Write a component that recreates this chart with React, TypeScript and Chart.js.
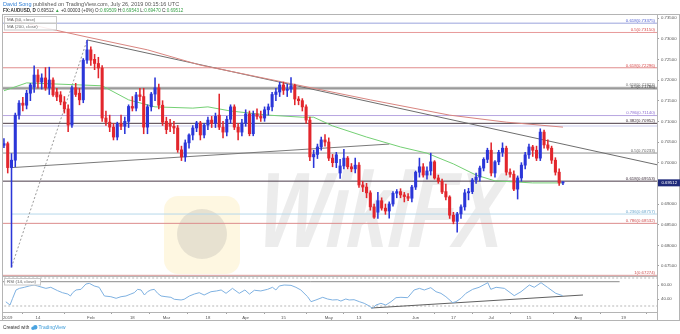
import React, { useEffect, useRef } from "react";
import { Chart, registerables } from "chart.js";

Chart.register(...registerables);

// ---------------- data ----------------
const tickIndex = [1, 9, 23, 34, 43, 54, 64, 74, 86, 94, 109, 119, 129, 139, 152, 164];
const tickLabels = ["2019", "14", "Feb", "18", "Mar", "18", "Apr", "15", "May", "13", "Jun", "17", "Jul", "15", "Aug", "19"];

const opens = [
  0.7042, 0.7046, 0.6988, 0.7006, 0.7115, 0.7144, 0.7139, 0.7168, 0.7183, 0.7212,
  0.7195, 0.7205, 0.7181, 0.7200, 0.7171, 0.7164, 0.7147, 0.7130, 0.7091, 0.7181,
  0.7168, 0.7152, 0.7248, 0.7273, 0.7250, 0.7240, 0.7229, 0.7108, 0.7098, 0.7086,
  0.7062, 0.7094, 0.7088, 0.7100, 0.7136, 0.7132, 0.7164, 0.7160, 0.7086, 0.7135,
  0.7166, 0.7181, 0.7139, 0.7100, 0.7095, 0.7088, 0.7084, 0.7031, 0.7014, 0.7048,
  0.7067, 0.7084, 0.7096, 0.7067, 0.7091, 0.7103, 0.7095, 0.7115, 0.7086, 0.7074,
  0.7105, 0.7135, 0.7086, 0.7074, 0.7096, 0.7118, 0.7070, 0.7118, 0.7112, 0.7108,
  0.7128, 0.7135, 0.7165, 0.7171, 0.7188, 0.7175, 0.7178, 0.7186, 0.7154, 0.7150,
  0.7135, 0.7103, 0.7014, 0.7020, 0.7038, 0.7055, 0.7050, 0.7011, 0.7000, 0.6975,
  0.6992, 0.7011, 0.6990, 0.6985, 0.6994, 0.6946, 0.6941, 0.6927, 0.6893, 0.6880,
  0.6908, 0.6890, 0.6883, 0.6900, 0.6926, 0.6930, 0.6922, 0.6918, 0.6914, 0.6941,
  0.6977, 0.6990, 0.6970, 0.6980, 0.7002, 0.6963, 0.6955, 0.6930, 0.6917, 0.6873,
  0.6858, 0.6876, 0.6893, 0.6927, 0.6930, 0.6958, 0.6965, 0.6987, 0.7008, 0.7030,
  0.6975, 0.7002, 0.7025, 0.7035, 0.6977, 0.6972, 0.6936, 0.6963, 0.6994, 0.7019,
  0.7038, 0.7030, 0.7011, 0.7074, 0.7043, 0.7035, 0.7006, 0.6977, 0.69509,
];
const highs = [
  0.7058, 0.7050, 0.7022, 0.7120, 0.7150, 0.7158, 0.7175, 0.7192, 0.7234, 0.7225,
  0.7215, 0.7230, 0.7231, 0.7205, 0.7180, 0.7172, 0.7160, 0.7140, 0.7186, 0.7192,
  0.7180, 0.7252, 0.7296, 0.7280, 0.7262, 0.7255, 0.7235, 0.7125, 0.7115, 0.7095,
  0.7098, 0.7115, 0.7110, 0.7140, 0.7160, 0.7170, 0.7180, 0.7180, 0.7140, 0.7170,
  0.7205, 0.7190, 0.7150, 0.7110, 0.7105, 0.7100, 0.7090, 0.7040, 0.7055, 0.7070,
  0.7090, 0.7100, 0.7100, 0.7095, 0.7110, 0.7112, 0.7120, 0.7166, 0.7100, 0.7112,
  0.7140, 0.7140, 0.7095, 0.7105, 0.7128, 0.7125, 0.7125, 0.7130, 0.7125, 0.7135,
  0.7142, 0.7170, 0.7180, 0.7195, 0.7195, 0.7190, 0.7206, 0.7190, 0.7160, 0.7155,
  0.7140, 0.7110, 0.7030, 0.7045, 0.7062, 0.7068, 0.7060, 0.7020, 0.7025, 0.7008,
  0.7032, 0.7015, 0.6998, 0.7011, 0.7000, 0.6955, 0.6950, 0.6932, 0.6900, 0.6928,
  0.6915, 0.6900, 0.6905, 0.6930, 0.6935, 0.6937, 0.6928, 0.6925, 0.6945, 0.6980,
  0.7011, 0.6998, 0.6990, 0.7023, 0.7005, 0.6970, 0.6960, 0.6948, 0.6920, 0.6880,
  0.6880, 0.6898, 0.6935, 0.6938, 0.6962, 0.6975, 0.6992, 0.7012, 0.7035, 0.7048,
  0.7005, 0.7030, 0.7048, 0.7040, 0.6985, 0.6980, 0.6968, 0.7000, 0.7025, 0.7045,
  0.7042, 0.7040, 0.7082, 0.7079, 0.7055, 0.7040, 0.7012, 0.6985, 0.69543,
];
const lows = [
  0.7036, 0.6975, 0.6747, 0.6990, 0.7105, 0.7125, 0.7130, 0.7150, 0.7170, 0.7180,
  0.7178, 0.7175, 0.7165, 0.7160, 0.7150, 0.7140, 0.7120, 0.7075, 0.7085, 0.7160,
  0.7140, 0.7145, 0.7240, 0.7235, 0.7225, 0.7205, 0.7100, 0.7090, 0.7075, 0.7055,
  0.7055, 0.7080, 0.7070, 0.7085, 0.7125, 0.7125, 0.7150, 0.7070, 0.7070, 0.7125,
  0.7150, 0.7130, 0.7090, 0.7070, 0.7075, 0.7070, 0.7025, 0.7005, 0.7003, 0.7035,
  0.7055, 0.7075, 0.7055, 0.7060, 0.7080, 0.7085, 0.7085, 0.7080, 0.7060, 0.7065,
  0.7095, 0.7080, 0.7055, 0.7065, 0.7088, 0.7065, 0.7065, 0.7105, 0.7100, 0.7100,
  0.7115, 0.7125, 0.7150, 0.7160, 0.7165, 0.7160, 0.7170, 0.7140, 0.7140, 0.7125,
  0.7095, 0.7005, 0.6988, 0.7010, 0.7030, 0.7040, 0.7005, 0.6990, 0.6988, 0.6962,
  0.6985, 0.6985, 0.6978, 0.6975, 0.6940, 0.6930, 0.6915, 0.6885, 0.6865, 0.6865,
  0.6885, 0.6875, 0.6866, 0.6895, 0.6915, 0.6915, 0.6905, 0.6908, 0.6905, 0.6935,
  0.6965, 0.6965, 0.6960, 0.6970, 0.6960, 0.6950, 0.6925, 0.6910, 0.6865, 0.6852,
  0.6832, 0.6865, 0.6885, 0.6910, 0.6925, 0.6950, 0.6955, 0.6980, 0.7000, 0.6968,
  0.6965, 0.6995, 0.7015, 0.6970, 0.6965, 0.6932, 0.6912, 0.6955, 0.6985, 0.7010,
  0.7015, 0.7005, 0.7005, 0.7035, 0.7030, 0.6998, 0.6970, 0.6945, 0.69470,
];
const closes = [
  0.7046, 0.6988, 0.7006, 0.7115, 0.7144, 0.7139, 0.7168, 0.7188, 0.7212, 0.7195,
  0.7205, 0.7181, 0.7200, 0.7164, 0.7159, 0.7147, 0.7130, 0.7091, 0.7181, 0.7165,
  0.7152, 0.7248, 0.7273, 0.7248, 0.7240, 0.7229, 0.7108, 0.7098, 0.7086, 0.7062,
  0.7094, 0.7088, 0.7100, 0.7136, 0.7132, 0.7164, 0.7160, 0.7086, 0.7135, 0.7166,
  0.7181, 0.7139, 0.7098, 0.7080, 0.7088, 0.7084, 0.7031, 0.7014, 0.7048, 0.7067,
  0.7084, 0.7096, 0.7067, 0.7091, 0.7103, 0.7095, 0.7112, 0.7086, 0.7074, 0.7105,
  0.7135, 0.7086, 0.7074, 0.7096, 0.7118, 0.7070, 0.7118, 0.7112, 0.7108, 0.7128,
  0.7135, 0.7165, 0.7171, 0.7188, 0.7175, 0.7178, 0.7186, 0.7154, 0.7150, 0.7135,
  0.7103, 0.7014, 0.7020, 0.7038, 0.7055, 0.7050, 0.7011, 0.7000, 0.7019, 0.6992,
  0.7011, 0.6990, 0.6985, 0.6994, 0.6946, 0.6941, 0.6927, 0.6893, 0.6868, 0.6908,
  0.6890, 0.6883, 0.6900, 0.6926, 0.6930, 0.6922, 0.6918, 0.6914, 0.6941, 0.6977,
  0.6990, 0.6970, 0.6980, 0.7002, 0.6963, 0.6955, 0.6929, 0.6917, 0.6873, 0.6858,
  0.6876, 0.6893, 0.6927, 0.6930, 0.6958, 0.6965, 0.6987, 0.7008, 0.7030, 0.6975,
  0.7002, 0.7025, 0.7035, 0.6977, 0.6972, 0.6936, 0.6963, 0.6994, 0.7019, 0.7038,
  0.7030, 0.7011, 0.7074, 0.7043, 0.7035, 0.7006, 0.6977, 0.6951, 0.69512,
];

const ma50X = [0, 6, 26, 33, 40, 50, 54, 60, 70, 79, 82, 87, 96, 105, 112, 119, 125, 130, 140, 148];
const ma50Y = [0.7174, 0.7193, 0.7186, 0.7152, 0.7135, 0.7132, 0.7135, 0.7125, 0.7115, 0.711, 0.711, 0.7089, 0.7062, 0.7038, 0.7023, 0.6997, 0.697, 0.6956, 0.6951, 0.6951];

const ma200X = [0, 10, 22, 38, 52, 75, 97, 118, 133, 148];
const ma200Y = [0.735, 0.7328, 0.7304, 0.7273, 0.7236, 0.7193, 0.7152, 0.7115, 0.7098, 0.7086];

const rsiX = [
  0.5, 1.6, 2.3, 3.2, 4.1, 5.4, 6.7, 8, 8.9, 11.1, 12.4, 14.2, 15.5, 16.9, 17.6, 18.2, 19.1, 20.4, 21.7, 22.6,
  23.9, 25.2, 26.6, 28.3, 29.7, 31, 32.3, 33.6, 34.5, 35.4, 36.3, 37.2, 38, 38.9, 39.8, 40.7, 41.6, 42.9, 44.2, 45.1,
  46.9, 47.7, 49.1, 50.4, 51.7, 53, 54.8, 56.3, 57.5, 58.8, 60.5, 62.3, 63.8, 65, 66.3, 68, 69.8, 71.1, 72, 72.9,
  74.2, 76, 77.3, 78.6, 80.4, 81.3, 82.6, 84.4, 85.7, 87, 88.3, 89.2, 90.5, 91.4, 92.7, 94.1, 95.4, 96.7, 97.6, 98.5,
  99.8, 101.1, 102.5, 103.8, 105.1, 106.9, 108.6, 110, 111.3, 113, 114.4, 115.7, 117, 118.8, 119.7, 121, 122.3, 124.1, 125.8, 128.1,
  128.9, 130.3, 132.5, 135.1, 136.9, 139.1, 140.4, 142.2, 143.9, 146.1, 147.9,
];
const rsiY = [
  36, 31.4, 41, 52.9, 55.2, 56.7, 58.6, 60, 58.6, 55.2, 56.7, 51.9, 49, 47.1, 44.3, 49, 52.9, 53.8, 61.4, 62.4,
  58.6, 56.7, 44.3, 43.3, 41, 43.3, 44.3, 47.1, 49, 53.8, 52.9, 45.7, 50.4, 52.9, 53.8, 48.1, 44.3, 43.3, 42.4, 39.6,
  38.6, 39.6, 44.3, 47.1, 49, 45.7, 50.4, 51.5, 52.9, 48.1, 55.2, 48.1, 52.9, 47, 52.5, 51.5, 53.8, 56.7, 52.9, 58.6,
  60, 59.5, 56.7, 52.9, 43.3, 36.2, 38.6, 42.4, 40, 38.6, 39, 37.1, 40, 38.6, 39, 36.2, 33.8, 30, 26.7, 31.4,
  33.8, 31.4, 36.2, 41.9, 42.4, 41.9, 52.9, 55.2, 52.9, 56.2, 50.4, 48.1, 43.3, 34.8, 36.2, 41, 48.1, 53.8, 56.7, 63.3,
  53.8, 56.7, 55.2, 44.8, 50.4, 60, 56.7, 63.3, 56.7, 48.1, 44.8,
];

// Fibonacci / horizontal levels
const fibValues = [0.73375, 0.7315, 0.72296, 0.71823, 0.71786, 0.7114, 0.70952, 0.70887, 0.70233, 0.69553, 0.68757, 0.68532, 0.67274];
const fibLabels = ["0.618(0.73375)", "0.5(0.73150)", "0.618(0.72296)", "0.618(0.71823)", "0.5(0.71786)", "0.786(0.71140)", "0.382(0.70952)", "", "0.5(0.70233)", "0.618(0.69553)", "0.236(0.68757)", "0.786(0.68532)", "1(0.67274)"];
const fibFrom = [-1, -1, -1, -1, -1, -1, -1, -1, -1, -1, 2, -1, -1];

// drawn trend lines (time index, value)
const trendDownX = [22, 172.9];
const trendDownY = [0.7297, 0.6995];
const supportX = [2, 102];
const supportY = [0.6988, 0.7045];
const fibDiagX = [2, 22];
const fibDiagY = [0.6747, 0.7296];
const rsiTrendX = [97.2, 153.3];
const rsiTrendY = [27.1, 45.7];
const rsiResX = [-1, 163];
const rsiResY = [64.7, 64.7];
const rsiBands = [70, 30];

const priceTicks = [0.735, 0.73, 0.725, 0.72, 0.715, 0.71, 0.705, 0.7, 0.69, 0.685, 0.68, 0.675];
const rsiTicks = [60, 40];

// ---------------- styles ----------------
const FONT = "'Liberation Sans', Arial, sans-serif";
const UP = "#2b36d8";
const DOWN = "#e2262c";
const fibLineColors = ["#9aa3dc", "#e89a9a", "#e08c8c", "#9a9a9a", "#666666", "#b7a6e0", "#4a3a44", "#c9cbed", "#8f8f8f", "#4a3a48", "#b6d8ea", "#dc8c8c", "#d99a9a"];
const fibTextColors = ["#4a5ad0", "#d84a4a", "#d84a4a", "#777777", "#444444", "#8a6ad0", "#3a2a34", "#8a8ad0", "#666666", "#3a2a38", "#6aa6cc", "#d05050", "#d05050"];

function lineDs(xs: number[], ys: number[], color: string, extra: any = {}) {
  return {
    type: "line",
    data: xs.map((x, k) => ({ x, y: ys[k] })),
    borderColor: color,
    borderWidth: 1,
    pointRadius: 0,
    tension: 0,
    fill: false,
    xAxisID: "x",
    yAxisID: "y",
    ...extra,
  };
}

function drawRuns(ctx: CanvasRenderingContext2D, x: number, y: number, runs: any[]) {
  let cx = x;
  for (const r of runs) {
    ctx.font = r.font;
    ctx.fillStyle = r.color;
    ctx.fillText(r.text, cx, y);
    cx += ctx.measureText(r.text).width;
  }
}

const overlay = {
  id: "overlay",
  beforeDraw(chart: any) {
    const c = chart.ctx;
    c.save();
    c.fillStyle = "#ffffff";
    c.fillRect(0, 0, chart.width, chart.height);
    c.restore();
  },
  beforeDatasetsDraw(chart: any) {
    const c = chart.ctx;
    const a = chart.chartArea;
    c.save();
    c.beginPath();
    c.rect(a.left, a.top, a.right - a.left, chart.scales.y.bottom - a.top);
    c.clip();
    // logo
    c.fillStyle = "rgba(252, 232, 170, 0.35)";
    c.beginPath();
    (c as any).roundRect(164, 196, 76, 78, 14);
    c.fill();
    c.fillStyle = "rgba(150,150,150,0.22)";
    c.beginPath();
    c.arc(202, 234, 25, 0, Math.PI * 2);
    c.fill();
    // text
    c.translate(252, 247);
    c.transform(1, 0, -0.22, 1, 0, 0);
    c.scale(1, 1.45);
    c.font = `bold 74px ${FONT}`;
    c.fillStyle = "rgba(170,170,170,0.22)";
    c.textBaseline = "alphabetic";
    c.fillText("WikiFX", 0, 0);
    c.restore();
  },
  afterDraw(chart: any) {
    const c = chart.ctx;
    const a = chart.chartArea;
    const ys = chart.scales.y;
    const rs = chart.scales.rsi;
    c.save();
    // frame
    c.strokeStyle = "#b4b4b4";
    c.lineWidth = 1;
    c.beginPath();
    c.moveTo(a.left - 0.5, a.top + 0.5);
    c.lineTo(679.5, a.top + 0.5);
    c.moveTo(a.left - 0.5, a.top);
    c.lineTo(a.left - 0.5, 320.5);
    c.moveTo(a.right + 0.5, a.top);
    c.lineTo(a.right + 0.5, 320.5);
    c.moveTo(679.5, a.top);
    c.lineTo(679.5, 320.5);
    c.moveTo(a.left, Math.round(ys.bottom) + 0.5);
    c.lineTo(a.right, Math.round(ys.bottom) + 0.5);
    c.moveTo(a.left, Math.round(a.bottom) + 0.5);
    c.lineTo(a.right, Math.round(a.bottom) + 0.5);
    c.moveTo(0, 320.5);
    c.lineTo(680, 320.5);
    c.stroke();

    // fib labels
    c.font = `4.3px ${FONT}`;
    c.textAlign = "right";
    c.textBaseline = "bottom";
    fibValues.forEach((v, k) => {
      if (!fibLabels[k]) return;
      c.fillStyle = fibTextColors[k];
      c.fillText(fibLabels[k], a.right - 2, ys.getPixelForValue(v) - 0.3);
    });

    // last price tag
    const last = closes[closes.length - 1];
    const py = ys.getPixelForValue(last);
    c.fillStyle = "#1f2a7a";
    c.fillRect(a.right + 1, py - 3.5, 22, 7);
    c.fillStyle = "#ffffff";
    c.textAlign = "left";
    c.textBaseline = "middle";
    c.font = `4.3px ${FONT}`;
    c.fillText(last.toFixed(5), a.right + 4.5, py);

    // header
    c.textAlign = "left";
    c.textBaseline = "middle";
    drawRuns(c, 3, 4, [
      { text: "David Song", color: "#2f7fd6", font: `5.5px ${FONT}` },
      { text: " published on TradingView.com, July 26, 2019 00:15:16 UTC", color: "#555555", font: `5.5px ${FONT}` },
    ]);
    const g = "#3aa24a";
    const d = "#333333";
    const f = `4.6px ${FONT}`;
    drawRuns(c, 3, 10.8, [
      { text: "FX:AUDUSD, D", color: d, font: `bold 4.6px ${FONT}` },
      { text: " 0.69512 ", color: d, font: f },
      { text: "\u25B2", color: g, font: f },
      { text: " +0.00003 (+0%) ", color: d, font: f },
      { text: "O:", color: d, font: f },
      { text: "0.69509", color: g, font: f },
      { text: " H:", color: d, font: f },
      { text: "0.69543", color: g, font: f },
      { text: " L:", color: d, font: f },
      { text: "0.69470", color: g, font: f },
      { text: " C:", color: d, font: f },
      { text: "0.69512", color: g, font: f },
    ]);

    // legend boxes
    c.fillStyle = "rgba(255,255,255,0.85)";
    c.strokeStyle = "#c8c8c8";
    c.fillRect(4.5, 16.5, 52, 6.5);
    c.strokeRect(4.5, 16.5, 52, 6.5);
    c.fillRect(4.5, 23.5, 52, 6.5);
    c.strokeRect(4.5, 23.5, 52, 6.5);
    c.fillStyle = "#666666";
    c.font = `4.4px ${FONT}`;
    c.fillText("MA (50, close)", 7, 19.9);
    c.fillText("MA (200, close)", 7, 26.9);

    // RSI label
    const rt = rs.top;
    c.fillStyle = "rgba(255,255,255,0.9)";
    c.fillRect(4.5, rt + 2.5, 36, 6.5);
    c.strokeRect(4.5, rt + 2.5, 36, 6.5);
    c.fillStyle = "#666666";
    c.fillText("RSI (14, close)", 7, rt + 5.9);

    // footer
    drawRuns(c, 3, 327.7, [{ text: "Created with ", color: "#333333", font: `4.7px ${FONT}` }]);
    c.fillStyle = "#4aa3e0";
    c.beginPath();
    c.arc(33, 328.3, 1.8, 0, Math.PI * 2);
    c.arc(35.3, 327.3, 2.2, 0, Math.PI * 2);
    c.fill();
    drawRuns(c, 38.5, 327.7, [{ text: "TradingView", color: "#3a9ad8", font: `4.9px ${FONT}` }]);
    c.restore();
  },
};

export default function App() {
  const ref = useRef<HTMLCanvasElement | null>(null);
  useEffect(() => {
    document.body.style.margin = "0";
    const canvas = ref.current;
    if (!canvas) return;
    const idx = opens.map((_, i) => i);
    const colors = idx.map((i) => (closes[i] >= opens[i] ? UP : DOWN));

    const datasets: any[] = [
      {
        type: "bar",
        data: idx.map((i) => ({ x: i, y: [opens[i], closes[i]] })),
        backgroundColor: colors,
        borderWidth: 0,
        barThickness: 2.4,
        minBarLength: 1,
        grouped: false,
        xAxisID: "x",
        yAxisID: "y",
      },
      {
        type: "bar",
        data: idx.map((i) => ({ x: i, y: [lows[i], highs[i]] })),
        backgroundColor: colors,
        borderWidth: 0,
        barThickness: 0.9,
        grouped: false,
        xAxisID: "x",
        yAxisID: "y",
      },
      lineDs(ma50X, ma50Y, "#74d074"),
      lineDs(ma200X, ma200Y, "#d98580"),
      lineDs(trendDownX, trendDownY, "#6e6e6e"),
      lineDs(supportX, supportY, "#7a7a7a"),
      lineDs(fibDiagX, fibDiagY, "#9a9a9a", { borderDash: [2, 2] }),
      ...fibValues.map((v, k) =>
        lineDs([fibFrom[k] < 0 ? -1 : fibFrom[k], 174], [v, v], fibLineColors[k], { borderWidth: 1 })
      ),
      lineDs(rsiX, rsiY, "#7fb2e2", { yAxisID: "rsi" }),
      lineDs(rsiTrendX, rsiTrendY, "#606060", { yAxisID: "rsi" }),
      lineDs(rsiResX, rsiResY, "#8a8a8a", { yAxisID: "rsi" }),
      ...rsiBands.map((b) => lineDs([-1, 174], [b, b], "#b8b8b8", { yAxisID: "rsi", borderDash: [2, 2] })),
    ];

    const chart = new Chart(canvas, {
      type: "bar",
      data: { datasets },
      options: {
        animation: false,
        responsive: false,
        maintainAspectRatio: false,
        events: [],
        layout: { padding: { left: 3, top: 14, right: 0, bottom: 14 } },
        plugins: { legend: { display: false }, tooltip: { enabled: false }, title: { display: false } },
        scales: {
          x: {
            type: "linear",
            axis: "x",
            min: -0.25,
            max: 172.9,
            offset: false,
            grid: { display: true, drawOnChartArea: false, drawTicks: true, tickLength: 2, color: "#a0a0a0" },
            border: { display: false },
            afterBuildTicks: (s: any) => {
              s.ticks = tickIndex.map((v) => ({ value: v }));
            },
            ticks: {
              autoSkip: false,
              maxRotation: 0,
              minRotation: 0,
              padding: 1,
              color: "#555555",
              font: { size: 4.3, family: FONT },
              callback: (v: any) => {
                const k = tickIndex.indexOf(Number(v));
                return k >= 0 ? tickLabels[k] : "";
              },
            },
            afterFit: (s: any) => {
              s.height = 8;
            },
          },
          y: {
            type: "linear",
            axis: "y",
            position: "right",
            stack: "panes",
            stackWeight: 262,
            min: 0.67258,
            max: 0.73597,
            grid: { display: true, drawOnChartArea: false, drawTicks: true, tickLength: 2, color: "#a0a0a0" },
            border: { display: false },
            afterBuildTicks: (s: any) => {
              s.ticks = priceTicks.map((v) => ({ value: v }));
            },
            ticks: {
              autoSkip: false,
              padding: 2,
              color: "#555555",
              font: { size: 4.3, family: FONT },
              callback: (v: any) => Number(v).toFixed(5),
            },
            afterFit: (s: any) => {
              s.width = 23;
            },
          },
          rsi: {
            type: "linear",
            axis: "y",
            position: "right",
            stack: "panes",
            stackWeight: 36,
            min: 21.43,
            max: 72.86,
            grid: { display: true, drawOnChartArea: false, drawTicks: true, tickLength: 2, color: "#a0a0a0" },
            border: { display: false },
            afterBuildTicks: (s: any) => {
              s.ticks = rsiTicks.map((v) => ({ value: v }));
            },
            ticks: {
              autoSkip: false,
              padding: 2,
              color: "#555555",
              font: { size: 4.3, family: FONT },
              callback: (v: any) => Number(v).toFixed(2),
            },
            afterFit: (s: any) => {
              s.width = 23;
            },
          },
        },
      } as any,
      plugins: [overlay],
    } as any);
    return () => chart.destroy();
  }, []);
  return (
    <div style={{ position: "absolute", left: 0, top: 0, width: 680, height: 334, background: "#fff" }}>
      <canvas ref={ref} width={680} height={334} style={{ width: 680, height: 334, display: "block" }} />
    </div>
  );
}
